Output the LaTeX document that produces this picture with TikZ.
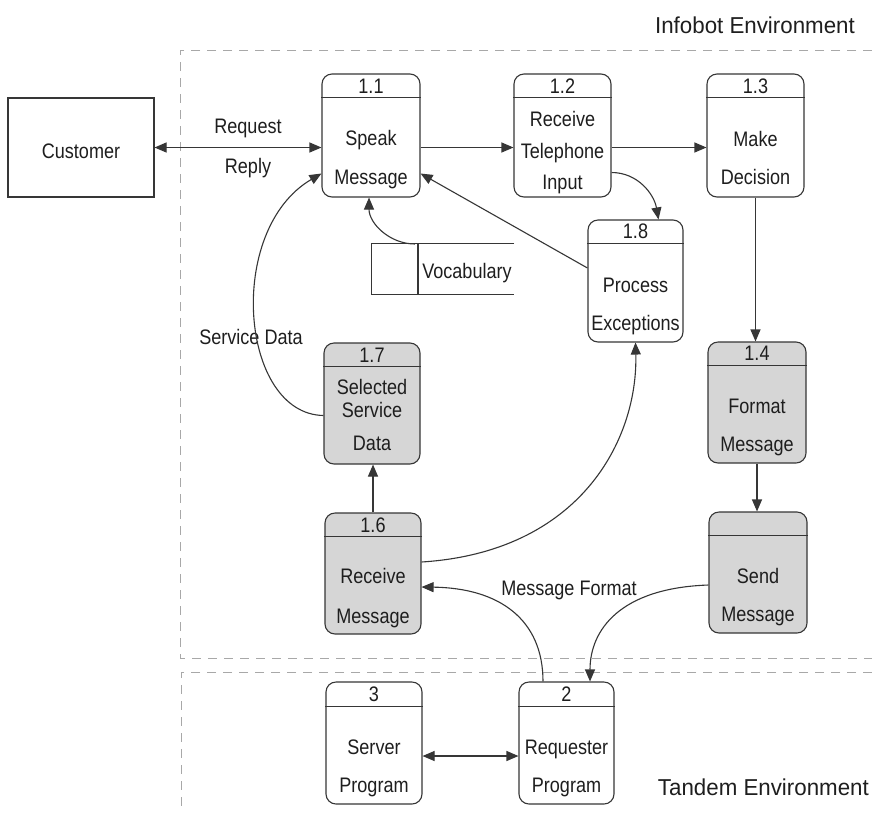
\documentclass[tikz,border=0pt]{standalone}
\usepackage{fontspec}
\setmainfont{Liberation Sans}[FakeStretch=0.86]
\newfontfamily\envfont{Liberation Sans}[FakeStretch=0.97]
\usetikzlibrary{arrows.meta}
\definecolor{ink}{HTML}{363636}
\definecolor{txt}{HTML}{1E1E1E}
\definecolor{shade}{HTML}{D6D6D6}
\definecolor{bound}{HTML}{A8A8A8}
\tikzset{
  procbox/.style={draw=ink, line width=1.1pt, rounded corners=10pt, inner sep=0pt},
  greybox/.style={procbox, fill=shade},
  hdr/.style={draw=ink, line width=1.3pt},
  lbl/.style={anchor=base, inner sep=0pt, text=txt, font=\fontsize{21}{25}\selectfont},
  envlbl/.style={anchor=base east, inner sep=0pt, text=txt, font=\envfont\fontsize{23}{27}\selectfont},
  flow/.style={draw=ink, line width=1.1pt, -{Triangle[length=12pt,width=10pt]}},
  bflow/.style={draw=ink, line width=1.1pt, {Triangle[length=12pt,width=10pt]}-{Triangle[length=12pt,width=10pt]}},
  boundary/.style={draw=bound, line width=1pt, dash pattern=on 9pt off 7pt},
}
\begin{document}
\begin{tikzpicture}[x=1pt,y=-1pt]
\useasboundingbox[fill=white] (0,0) rectangle (872,812);

% environment boundaries
\draw[boundary] (872,50) -- (180,50) -- (180,658) -- (872,658);
\draw[boundary] (872,672) -- (181,672) -- (181,812);
\node[envlbl] (envinfo) at (855,33) {Infobot Environment};
\node[envlbl] (envtandem) at (869,795) {Tandem Environment};

% external entity
\node[draw=ink, line width=1.1pt, minimum width=146pt, minimum height=99pt, inner sep=0pt] (cust) at (81,147.5) {};
\node[lbl] (custt) at (81,158) {Customer};

% process boxes
\node[procbox, minimum width=98pt, minimum height=123pt] (p11) at (371,135.5) {};
\node[procbox, minimum width=97pt, minimum height=123pt] (p12) at (562.5,135.5) {};
\node[procbox, minimum width=97pt, minimum height=123pt] (p13) at (755.5,135.5) {};
\node[procbox, minimum width=95pt, minimum height=122pt] (p18) at (635.5,281) {};
\node[greybox, minimum width=96pt, minimum height=121pt] (p17) at (372,403.5) {};
\node[greybox, minimum width=96pt, minimum height=121pt] (p16) at (373,573.5) {};
\node[greybox, minimum width=98pt, minimum height=121pt] (p14) at (757,402.5) {};
\node[greybox, minimum width=98pt, minimum height=121pt] (p15) at (758,572.5) {};
\node[procbox, minimum width=96pt, minimum height=122pt] (p3) at (374,743) {};
\node[procbox, minimum width=95pt, minimum height=122pt] (p2) at (566.5,743) {};

% header rules
\foreach \b in {p11,p12,p13,p18,p17,p16,p14,p15}
  \draw[hdr] ([yshift=-24pt]\b.north west) -- ([yshift=-24pt]\b.north east);
\foreach \b in {p3,p2}
  \draw[hdr] ([yshift=-25pt]\b.north west) -- ([yshift=-25pt]\b.north east);

% box texts
\node[lbl] (n11) at (371,93) {1.1};
\node[lbl] (t11a) at (371,145) {Speak};
\node[lbl] (t11b) at (371,184) {Message};

\node[lbl] (n12) at (562.5,93) {1.2};
\node[lbl] (t12a) at (562.5,126) {Receive};
\node[lbl] (t12b) at (562.5,158) {Telephone};
\node[lbl] (t12c) at (562.5,189) {Input};

\node[lbl] (n13) at (755.5,93) {1.3};
\node[lbl] (t13a) at (755.5,146) {Make};
\node[lbl] (t13b) at (755.5,184) {Decision};

\node[lbl] (n18) at (635.5,238) {1.8};
\node[lbl] (t18a) at (635.5,292) {Process};
\node[lbl] (t18b) at (635.5,330) {Exceptions};

\node[lbl] (n17) at (372,362) {1.7};
\node[lbl] (t17a) at (372,394) {Selected};
\node[lbl] (t17b) at (372,417) {Service};
\node[lbl] (t17c) at (372,450) {Data};

\node[lbl] (n16) at (373,532) {1.6};
\node[lbl] (t16a) at (373,583) {Receive};
\node[lbl] (t16b) at (373,623) {Message};

\node[lbl] (n14) at (757,360) {1.4};
\node[lbl] (t14a) at (757,413) {Format};
\node[lbl] (t14b) at (757,451) {Message};

\node[lbl] (t15a) at (758,583) {Send};
\node[lbl] (t15b) at (758,621) {Message};

\node[lbl] (n3) at (374,701) {3};
\node[lbl] (t3a) at (374,754) {Server};
\node[lbl] (t3b) at (374,792) {Program};

\node[lbl] (n2) at (566.5,701) {2};
\node[lbl] (t2a) at (566.5,754) {Requester};
\node[lbl] (t2b) at (566.5,792) {Program};

% data store
\node[minimum width=142pt, minimum height=50pt, inner sep=0pt] (voc) at (443,269) {};
\coordinate (vocdiv) at (418,244);
\draw[draw=ink, line width=1.1pt] (voc.north east) -- (voc.north west) -- (voc.south west) -- (voc.south east);
\draw[draw=ink, line width=1.1pt] (vocdiv) -- (vocdiv |- voc.south);
\node[lbl] (voct) at (467,278) {Vocabulary};

% flow labels
\node[lbl] (lreq) at (248,133) {Request};
\node[lbl] (lrep) at (248,173) {Reply};
\node[lbl] (lsvc) at (251,344) {Service Data};
\node[lbl] (lfmt) at (569,595) {Message Format};

% data flows
\draw[bflow] (cust.east) -- (cust.east -| p11.west);
\draw[flow] ([yshift=-12pt]p11.east) -- ([yshift=-12pt]p12.west);
\draw[flow] ([yshift=-12pt]p12.east) -- ([yshift=-12pt]p13.west);
\draw[flow] ([yshift=-37pt]p12.east) to[out=0,in=100] ([xshift=23pt]p18.north);
\draw[flow] ([yshift=13pt]p18.west) -- ([yshift=-38pt]p11.east);
\draw[flow] ([xshift=-3pt]vocdiv) to[out=180,in=-90] ([xshift=-2pt]p11.south);
\draw[flow] ([yshift=-12pt]p17.west) .. controls (240,414) and (225,230) .. ([yshift=-38pt]p11.west);
\draw[flow] (p13.south) -- (p13.south |- p14.north);
\draw[flow] (p14.south) -- (p14.south |- p15.north);
\draw[flow] (p16.north) -- (p16.north |- p17.south);
\draw[flow] ([yshift=11.5pt]p16.east) .. controls (580,552) and (638,440) .. (p18.south);
\draw[flow] ([yshift=-12.5pt]p15.west) .. controls (620,588) and (590,630) .. ([xshift=23.5pt]p2.north);
\draw[flow] ([xshift=-23.5pt]p2.north) .. controls (543,620) and (500,588) .. ([yshift=-13.5pt]p16.east);
\draw[bflow] ([yshift=-13pt]p3.east) -- ([yshift=-13pt]p3.east -| p2.west);
\end{tikzpicture}
\end{document}
